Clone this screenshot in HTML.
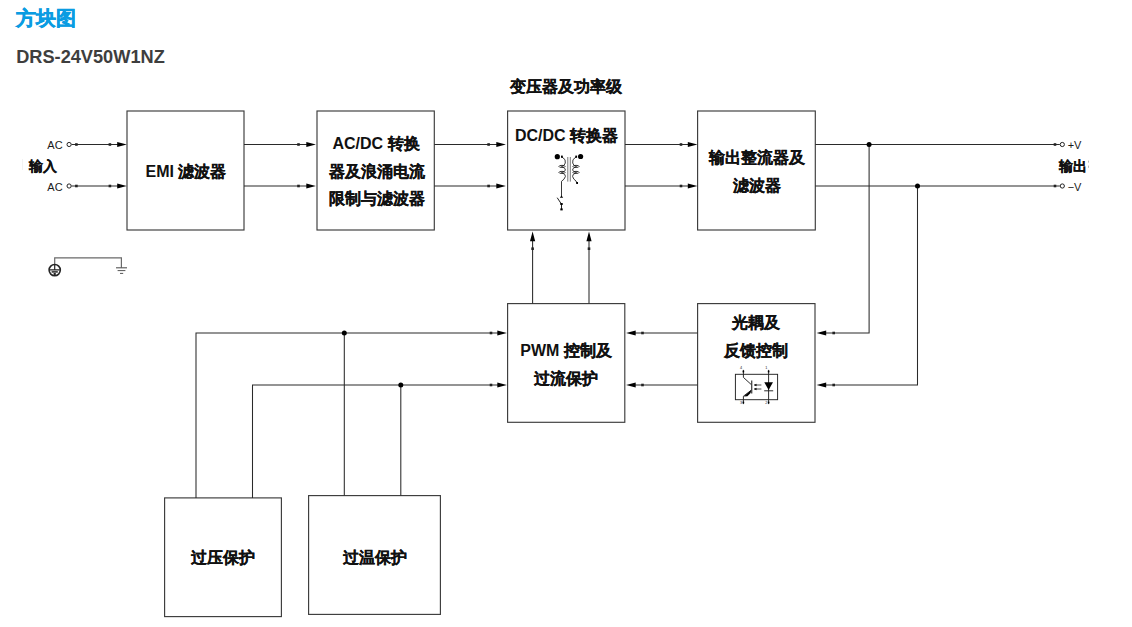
<!DOCTYPE html>
<html>
<head>
<meta charset="utf-8">
<style>
html,body{margin:0;padding:0;background:#fff;width:1132px;height:627px;overflow:hidden;}
svg{position:absolute;left:0;top:0;display:block;}
text{font-family:"Liberation Sans",sans-serif;font-weight:bold;fill:#111;}
.c{stroke:#111;stroke-width:0.22;}
text.n{font-weight:normal;fill:#1a1a1a;}
</style>
</head>
<body>
<svg width="1132" height="627" viewBox="0 0 1132 627">
<text x="16.4" y="24.9" font-size="20.1" style="fill:#0a9ce2;stroke:#0a9ce2;stroke-width:0.45">方块图</text>
<text x="16.2" y="63.2" font-size="18.2" style="fill:#3e3e3e">DRS-24V50W1NZ</text>

<g fill="none" stroke="#3c3c3c" stroke-width="1.15">
<rect x="127.0" y="111.0" width="117.00" height="119.00"/>
<rect x="317.0" y="111.0" width="117.30" height="119.00"/>
<rect x="507.6" y="111.0" width="117.40" height="119.00"/>
<rect x="697.6" y="111.0" width="117.70" height="119.00"/>
<rect x="507.6" y="303.6" width="117.20" height="118.70"/>
<rect x="697.6" y="303.6" width="117.40" height="118.70"/>
<rect x="164.6" y="497.9" width="116.80" height="118.70"/>
<rect x="308.6" y="495.6" width="131.80" height="118.80"/>
</g>
<g fill="none" stroke="#2a2a2a" stroke-width="1.05">
<path d="M71.5 144.5 H118"/>
<path d="M71.5 186.0 H118"/>
<path d="M244 144.5 H307"/>
<path d="M244 186.0 H307"/>
<path d="M434.3 144.5 H497"/>
<path d="M434.3 186.0 H497"/>
<path d="M625 144.5 H688"/>
<path d="M625 186.0 H688"/>
<path d="M815.3 144.5 H1059.8"/>
<path d="M815.3 186.0 H1059.8"/>
<path d="M869.1 144.5 V333.0 H825"/>
<path d="M917.5 186.0 V385.0 H825"/>
<path d="M697.6 333.0 H635"/>
<path d="M697.6 385.0 H635"/>
<path d="M532.6 303.6 V240"/>
<path d="M589 303.6 V240"/>
<path d="M196 497.9 V333.0 H498"/>
<path d="M252.5 497.9 V385.0 H498"/>
<path d="M344.3 333.0 V495.6"/>
<path d="M400.8 385.0 V495.6"/>
</g>
<path d="M54.7 264 V257.8 H121.4 V267.8" fill="none" stroke="#6a6a6a" stroke-width="1.2"/>
<g fill="#000">
<path transform="translate(126.4,144.5) rotate(0)" d="M0.4 0 L-9.2 -2.6 L-9.2 2.6 Z"/>
<path transform="translate(126.4,186.0) rotate(0)" d="M0.4 0 L-9.2 -2.6 L-9.2 2.6 Z"/>
<path transform="translate(315.5,144.5) rotate(0)" d="M0.4 0 L-9.2 -2.6 L-9.2 2.6 Z"/>
<path transform="translate(315.5,186.0) rotate(0)" d="M0.4 0 L-9.2 -2.6 L-9.2 2.6 Z"/>
<path transform="translate(505.5,144.5) rotate(0)" d="M0.4 0 L-9.2 -2.6 L-9.2 2.6 Z"/>
<path transform="translate(505.5,186.0) rotate(0)" d="M0.4 0 L-9.2 -2.6 L-9.2 2.6 Z"/>
<path transform="translate(697,144.5) rotate(0)" d="M0.4 0 L-9.2 -2.6 L-9.2 2.6 Z"/>
<path transform="translate(697,186.0) rotate(0)" d="M0.4 0 L-9.2 -2.6 L-9.2 2.6 Z"/>
<path transform="translate(506.5,333.0) rotate(0)" d="M0.4 0 L-9.2 -2.6 L-9.2 2.6 Z"/>
<path transform="translate(506.5,385.0) rotate(0)" d="M0.4 0 L-9.2 -2.6 L-9.2 2.6 Z"/>
<path transform="translate(626.5,333.0) rotate(180)" d="M0.4 0 L-9.2 -2.6 L-9.2 2.6 Z"/>
<path transform="translate(626.5,385.0) rotate(180)" d="M0.4 0 L-9.2 -2.6 L-9.2 2.6 Z"/>
<path transform="translate(817,333.0) rotate(180)" d="M0.4 0 L-9.2 -2.6 L-9.2 2.6 Z"/>
<path transform="translate(817,385.0) rotate(180)" d="M0.4 0 L-9.2 -2.6 L-9.2 2.6 Z"/>
<path transform="translate(532.6,232) rotate(-90)" d="M0.4 0 L-9.2 -2.6 L-9.2 2.6 Z"/>
<path transform="translate(589,232) rotate(-90)" d="M0.4 0 L-9.2 -2.6 L-9.2 2.6 Z"/>
</g>
<g fill="#222">
<rect x="75.10" y="143.20" width="2.6" height="2.6"/>
<rect x="75.10" y="184.70" width="2.6" height="2.6"/>
<rect x="108.60" y="143.20" width="2.6" height="2.6"/>
<rect x="108.60" y="184.70" width="2.6" height="2.6"/>
<rect x="297.20" y="143.20" width="2.6" height="2.6"/>
<rect x="297.20" y="184.70" width="2.6" height="2.6"/>
<rect x="487.30" y="143.20" width="2.6" height="2.6"/>
<rect x="487.30" y="184.70" width="2.6" height="2.6"/>
<rect x="679.70" y="143.20" width="2.6" height="2.6"/>
<rect x="679.70" y="184.70" width="2.6" height="2.6"/>
<rect x="1053.70" y="143.20" width="2.6" height="2.6"/>
<rect x="1053.70" y="184.70" width="2.6" height="2.6"/>
<rect x="641.20" y="331.70" width="2.6" height="2.6"/>
<rect x="641.20" y="383.70" width="2.6" height="2.6"/>
<rect x="832.40" y="331.70" width="2.6" height="2.6"/>
<rect x="832.40" y="383.70" width="2.6" height="2.6"/>
<rect x="489.70" y="331.70" width="2.6" height="2.6"/>
<rect x="489.70" y="383.70" width="2.6" height="2.6"/>
<rect x="531.30" y="247.40" width="2.6" height="2.6"/>
<rect x="587.70" y="247.40" width="2.6" height="2.6"/>
</g>
<g fill="#000">
<circle cx="869.1" cy="144.5" r="2.5"/>
<circle cx="917.5" cy="186.0" r="2.5"/>
<circle cx="344.3" cy="333.0" r="2.5"/>
<circle cx="400.8" cy="385.0" r="2.5"/>
</g>
<g fill="#fff" stroke="#222" stroke-width="1">
<circle cx="69.1" cy="144.5" r="2.1"/>
<circle cx="69.1" cy="186.0" r="2.1"/>
<circle cx="1062.3" cy="144.5" r="2.1"/>
<circle cx="1062.3" cy="186.0" r="2.1"/>
</g>
<g fill="none" stroke="#262626">
<circle cx="54.7" cy="270.1" r="5.6" stroke-width="1.6"/>
<path d="M54.7 264 V269.6 M49.6 269.8 H59.8" stroke-width="1.2"/>
<path d="M51.6 271.9 H57.8" stroke-width="1.5"/>
<path d="M54.7 273 V275.8" stroke-width="2.2"/>
</g>
<g fill="none" stroke="#555">
<path d="M116 267.8 H127" stroke-width="1.1"/>
<path d="M117.6 270.6 H125.4" stroke-width="1"/>
<path d="M120 273.4 H123.2" stroke-width="1"/>
</g>

<g fill="none" stroke="#222" stroke-width="0.9">
<path d="M561.8 156.8 Q566.5 159.5 565.3 163 Q564.6 166 561.5 166.4 Q566.2 168.5 565.4 170 Q564.8 172 561.5 172.4 Q566.2 174.5 565.4 176.5 Q564.5 179.5 561.5 181.3 V197"/>
<ellipse cx="562" cy="166.4" rx="3.1" ry="1.05"/>
<ellipse cx="562" cy="172.4" rx="3.1" ry="1.05"/>
<path d="M576.2 156.8 Q571.5 159.5 572.7 163 Q573.4 166 576.5 166.4 Q571.8 168.5 572.6 170 Q573.2 172 576.5 172.4 Q571.8 174.5 572.6 176.5 Q573.4 179.5 576 181 L577 183.2"/>
<ellipse cx="576" cy="166.4" rx="3.1" ry="1.05"/>
<ellipse cx="576" cy="172.4" rx="3.1" ry="1.05"/>
<path d="M557.2 197.7 L561.3 203.9 M561.5 204 V210" stroke-width="1"/>
</g>
<g stroke="#6e6e6e" stroke-width="0.95"><path d="M567.8 157 V181.6 M570.3 157 V181.6"/></g>
<g fill="#000">
<circle cx="557.3" cy="156.7" r="2.6"/>
<circle cx="580.6" cy="156.5" r="2.6"/>
<path d="M559.8 197.8 L561.5 195.6 L563.2 197.8 Z"/>
<rect x="560.3" y="203" width="2.4" height="2"/>
<rect x="561" y="155.6" width="1.8" height="2.2"/><rect x="575.3" y="155.6" width="1.8" height="2.2"/><rect x="576.2" y="182" width="1.8" height="2"/>
<rect x="560.3" y="208.4" width="2.4" height="2"/>
</g>

<g fill="none" stroke="#222" stroke-width="0.95">
<rect x="735.4" y="374.3" width="42.2" height="25.4"/>
<path d="M743.4 369.9 V377.4 L751.3 384.6 M751.3 390.2 L743.4 396.2 V404.1"/>
<path d="M751.75 380.4 V393.6" stroke-width="1.1"/>
<path d="M768.6 369.9 V404.1 M764.2 390.8 H773.2"/>
<path d="M754 385 H761.4 M754 389 H761.4" stroke-width="0.8"/>
</g>
<g fill="#000">
<path d="M764.3 382.2 H773 L768.6 390 Z"/>
<path d="M743.8 396.4 L751.2 390 L750.6 392.9 L747.4 396.2 Z"/>
<path d="M754 385 L756.5 383.8 V386.2 Z M754 389 L756.5 387.8 V390.2 Z"/>
<rect x="742.6" y="370.6" width="1.6" height="1.8"/><rect x="767.8" y="370.6" width="1.6" height="1.8"/>
<rect x="742.6" y="401.6" width="1.6" height="1.8"/><rect x="767.8" y="401.6" width="1.6" height="1.8"/>
</g>
<g font-size="3.8">
<text class="n" x="740" y="369.2">4</text><text class="n" x="765.2" y="369.2">1</text>
<text class="n" x="740" y="404.2">3</text><text class="n" x="765.2" y="404.2">2</text>
</g>

<g class="t" font-size="16" text-anchor="middle">
<text x="186" y="176.5">EMI <tspan class="c">滤波器</tspan></text>
<text x="376" y="149">AC/DC <tspan class="c">转换</tspan></text>
<text x="377" y="176.5"><tspan class="c">器及浪涌电流</tspan></text>
<text x="377" y="204"><tspan class="c">限制与滤波器</tspan></text>
<text x="566" y="92"><tspan class="c">变压器及功率级</tspan></text>
<text x="566.5" y="140.5">DC/DC <tspan class="c">转换器</tspan></text>
<text x="756.5" y="163"><tspan class="c">输出整流器及</tspan></text>
<text x="756.5" y="191"><tspan class="c">滤波器</tspan></text>
<text x="566" y="356">PWM <tspan class="c">控制及</tspan></text>
<text x="565.5" y="383.5"><tspan class="c">过流保护</tspan></text>
<text x="756.4" y="328"><tspan class="c">光耦及</tspan></text>
<text x="756" y="356"><tspan class="c">反馈控制</tspan></text>
<text x="223" y="562.7"><tspan class="c">过压保护</tspan></text>
<text x="374.5" y="562.7"><tspan class="c">过温保护</tspan></text>
</g>
<g font-size="11">
<text class="n" x="47.3" y="148.6">AC</text>
<text class="n" x="47.3" y="190.5">AC</text>
<text class="n" x="1067.7" y="148.7">+V</text>
<text class="n" x="1067.7" y="190.5">−V</text>
</g>
<path d="M22.5 159 V170" stroke="#f2f2f2" stroke-width="1"/>
<text x="28.5" y="170.8" font-size="14"><tspan class="c">输入</tspan></text>
<rect x="1088" y="160.6" width="1" height="2" fill="#bbb"/><rect x="1088" y="165.6" width="1" height="2.2" fill="#bbb"/>
<text x="1058.8" y="170.9" font-size="14.3"><tspan class="c">输出</tspan></text>
</svg>
</body>
</html>
